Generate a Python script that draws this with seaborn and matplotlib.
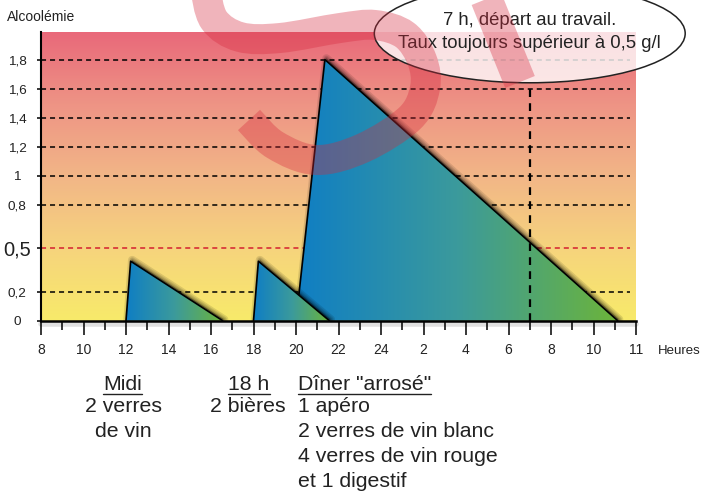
import numpy as np
import pandas as pd
import matplotlib
matplotlib.use("Agg")
import matplotlib.pyplot as plt
import matplotlib.transforms as mtransforms
from matplotlib.colors import LinearSegmentedColormap
from matplotlib.patches import Polygon, Ellipse, PathPatch
from matplotlib.path import Path
from matplotlib.lines import Line2D
import seaborn as sns

# heures comptées en continu : 24 = minuit, 31 = 7 h le lendemain
repas = ["Midi", "18 h", "Dîner"]
debut = [12.0, 18.0, 20.0]
pic_heure = [12.22, 18.23, 21.36]
pic_taux = [0.41, 0.41, 1.80]
fin = [16.55, 21.57, 35.14]

niveaux = [0, 0.2, 0.5, 0.8, 1.0, 1.2, 1.4, 1.6, 1.8]
niveaux_lbl = ["0", "0,2", "0,5", "0,8", "1", "1,2", "1,4", "1,6", "1,8"]
heures_pos = list(range(8, 37, 2))
heures_lbl = ["8", "10", "12", "14", "16", "18", "20", "22", "24",
              "2", "4", "6", "8", "10", "11"]
depart = 31   # 7 h, départ au travail
seuil = 0.5

W, H = 703, 496
sns.set_style("white")
plt.rcParams["font.family"] = ["Liberation Sans", "DejaVu Sans"]
plt.rcParams["text.color"] = "#222222"

fig = plt.figure(figsize=(W / 100, H / 100), dpi=100)
ax = fig.add_axes([41 / W, 1 - 320.7 / H, 595 / W, 288.7 / H])
ax.set_facecolor("none")
xmin, xmax, ymin, ymax = 8, 36, 0, 1.99

# fond dégradé jaune -> rouge
fond = LinearSegmentedColormap.from_list(
    "fond", ["#f8ea6a", "#f6d47d", "#f2b687", "#ee9485", "#e9697a"])
ax.imshow(np.linspace(0, 1, 256).reshape(-1, 1), extent=[xmin, xmax, ymin, ymax],
          origin="lower", cmap=fond, aspect="auto", zorder=0)

# lignes de niveau
for v in niveaux[1:]:
    col = "#d42030" if v == seuil else "black"
    ax.hlines(v, xmin, 35.7, colors=col, lw=1.1, linestyles=(0, (3.3, 2.6)), zorder=1.5)

# triangles d'alcoolémie
tri_cmap = LinearSegmentedColormap.from_list("tri", ["#0f7ec4", "#3b9a9c", "#6cb43a"])
df = pd.DataFrame({
    "repas": np.repeat(repas, 3),
    "heure": np.ravel(np.column_stack([debut, pic_heure, fin])),
    "taux": np.ravel(np.column_stack([np.zeros(3), pic_taux, np.zeros(3)])),
})
ordre = {"Dîner": 3, "18 h": 4, "Midi": 4.5}
grad = np.linspace(0, 1, 256).reshape(1, -1)
for nom in ["Dîner", "18 h", "Midi"]:
    g = df[df["repas"] == nom]
    pts = g[["heure", "taux"]].to_numpy()
    z = ordre[nom]
    ombre_tr = mtransforms.offset_copy(ax.transData, fig=fig, x=1.5, y=1.2, units="dots")
    for w in (6.0, 4.0, 2.5, 1.2):
        ax.add_patch(Polygon(pts, closed=True, facecolor=(0, 0, 0, 0.11),
                             edgecolor=(0, 0, 0, 0.11), lw=w, joinstyle="round",
                             transform=ombre_tr, zorder=z))
    clip = Polygon(pts, closed=True, transform=ax.transData)
    im = ax.imshow(grad, extent=[pts[:, 0].min(), pts[:, 0].max(), 0, pts[:, 1].max()],
                   cmap=tri_cmap, aspect="auto", zorder=z + 0.1)
    im.set_clip_path(clip)
    sns.lineplot(data=g, x="heure", y="taux", sort=False, estimator=None,
                 color="black", lw=1.2, ax=ax, zorder=z + 0.2, legend=False)

# 7 h
ax.vlines(depart, 0, 1.6, colors="black", lw=1.6, linestyles=(0, (3.5, 2.8)), zorder=8)

ax.set_xlim(xmin, xmax)
ax.set_ylim(ymin, ymax)
ax.set_xlabel("")
ax.set_ylabel("")

# axes
for s in ["top", "right"]:
    ax.spines[s].set_visible(False)
ax.spines["left"].set_linewidth(1.5)
ax.spines["bottom"].set_linewidth(1.8)
for s in ["left", "bottom"]:
    ax.spines[s].set_color("black")
    ax.spines[s].set_zorder(10)
ax.plot([xmin, xmax], [0, 0], color="black", alpha=0.12, lw=4,
        transform=mtransforms.offset_copy(ax.transData, fig=fig, x=0, y=-3.5, units="dots"),
        clip_on=False, zorder=1)

ax.set_xticks(heures_pos, heures_lbl)
ax.set_xticks(range(9, 36, 2), minor=True)
ax.tick_params(axis="x", which="major", length=10, width=1.1, pad=6,
               labelsize=10, colors="black", labelcolor="#222222", bottom=True)
ax.tick_params(axis="x", which="minor", length=6.5, width=1.1, colors="black", bottom=True)
ax.set_yticks(niveaux, niveaux_lbl)
ax.tick_params(axis="y", length=2.9, width=1.1, pad=14.4, labelsize=9.7,
               colors="black", labelcolor="#222222", left=True)
for lbl in ax.get_yticklabels():
    lbl.set_horizontalalignment("center")
    if lbl.get_text() == "0,5":
        lbl.set_fontsize(14.5)

fig.text(7 / W, 1 - 17 / H, "Alcoolémie", fontsize=10, va="center", ha="left")
fig.text(658 / W, 1 - 351 / H, "Heures", fontsize=9.5, va="center", ha="left")

# bulle
ax.add_patch(Ellipse((depart, 1.98), width=14.63, height=0.68, facecolor=(1, 1, 1, 0.8),
                     edgecolor="#222222", lw=1.1, clip_on=False, zorder=9))
ax.text(depart, 2.071, "7 h, départ au travail.", ha="center", va="center",
        fontsize=13.3, zorder=9.5, clip_on=False)
ax.text(depart, 1.912, "Taux toujours supérieur à 0,5 g/l", ha="center", va="center",
        fontsize=13.3, zorder=9.5, clip_on=False)

# légendes sous l'axe
bt = mtransforms.blended_transform_factory(ax.transData, fig.transFigure)
lignes_y = [390, 412, 437, 462, 487]
fy = [1 - y / H for y in lignes_y]
fs = 15.3
titres = []
titres.append(ax.text(11.84, fy[0], "Midi", ha="center", va="baseline", fontsize=fs, transform=bt))
ax.text(11.88, fy[1], "2 verres", ha="center", va="baseline", fontsize=fs, transform=bt)
ax.text(11.86, fy[2], "de vin", ha="center", va="baseline", fontsize=fs, transform=bt)
titres.append(ax.text(17.79, fy[0], "18 h", ha="center", va="baseline", fontsize=fs, transform=bt))
ax.text(17.72, fy[1], "2 bières", ha="center", va="baseline", fontsize=fs, transform=bt)
titres.append(ax.text(20.09, fy[0], "Dîner \"arrosé\"", ha="left", va="baseline", fontsize=fs, transform=bt))
diner = ["1 apéro", "2 verres de vin blanc", "4 verres de vin rouge", "et 1 digestif"]
for k, t in enumerate(diner):
    ax.text(20.09, fy[k + 1], t, ha="left", va="baseline", fontsize=fs, transform=bt)

fig.canvas.draw()
rend = fig.canvas.get_renderer()
for t in titres:
    bb = t.get_window_extent(rend)
    yl = 1 - (lignes_y[0] + 3.5) / H
    fig.add_artist(Line2D([bb.x0 / W, bb.x1 / W], [yl, yl], color="#222222", lw=1.0,
                          transform=fig.transFigure))

# filigrane
pts = np.array([(205, -12), (214, 20), (240, 37), (280, 38), (340, 28), (375, 25),
                (405, 35), (422, 60), (425, 88), (410, 118), (363, 148), (316, 160),
                (275, 145), (249, 120)], float)
verts = [pts[0]]
codes = [Path.MOVETO]
n = len(pts)
for i in range(n - 1):
    p0, p1, p2, p3 = pts[max(i - 1, 0)], pts[i], pts[i + 1], pts[min(i + 2, n - 1)]
    verts += [p1 + (p2 - p0) / 6, p2 - (p3 - p1) / 6, p2]
    codes += [Path.CURVE4] * 3
verts = np.array(verts)
verts = np.column_stack([verts[:, 0] / W, 1 - verts[:, 1] / H])
wm = (0.84, 0.16, 0.24, 0.35)
fig.add_artist(PathPatch(Path(verts, codes), transform=fig.transFigure, fill=False,
                         edgecolor=wm, lw=21.6, capstyle="butt", zorder=20))
fig.add_artist(Line2D([482 / W, 520 / W], [1 + 12 / H, 1 - 82 / H], color=wm, lw=23,
                      solid_capstyle="butt", transform=fig.transFigure, zorder=20))

fig.savefig("out.png", dpi=100)
